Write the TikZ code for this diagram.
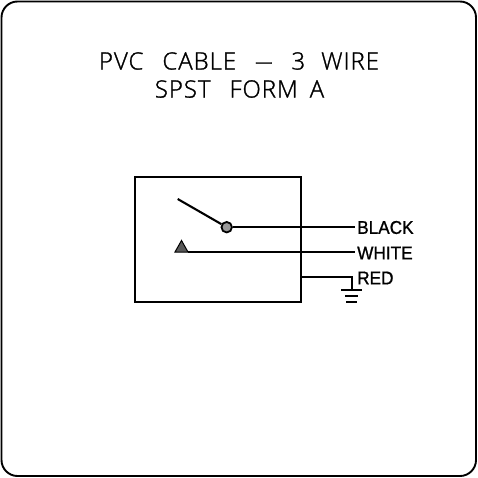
\documentclass[tikz,border=0pt]{standalone}
\usepackage{graphicx}
\usepackage{fontspec}
\setmainfont{Liberation Sans}
\newfontfamily\titlefont[LetterSpace=4,FakeBold=1.2]{Open Sans Light}
\newfontfamily\lblfont[FakeBold=1.0,FakeStretch=0.93]{Liberation Sans}
\newcommand{\wgap}[1]{\hspace*{#1pt}}
\tikzset{
  wire/.style={draw=black,line width=2.1pt},
  lbl/.style={inner sep=0pt,anchor=west,font=\lblfont\fontsize{18.5}{18.5}\selectfont},
  ttl/.style={inner sep=0pt,anchor=center,font=\titlefont\fontsize{24}{24}\selectfont},
}
\begin{document}
\begin{tikzpicture}[x=1pt,y=-1pt]
\useasboundingbox (0,0) rectangle (478,478);
\fill[white] (0,0) rectangle (478,478);
\draw[line width=1.9pt,rounded corners=16pt] (1.5,1.5) rectangle (476,476);
\node[ttl] (t1) at (239,61) {PVC\wgap{19}CABLE\wgap{19}\scalebox{0.72}[1]{—}\wgap{19}3\wgap{16}WIRE};
\node[ttl] (t2) at (239.5,89) {SPST\wgap{19}FORM\wgap{12}A};
\node[wire,rectangle,minimum width=166pt,minimum height=125pt,inner sep=0pt] (box) at (218,239.5) {};
\coordinate (arm) at (177.7,199);
\coordinate (triL) at (175,252);
\coordinate (triR) at (188,252);
\coordinate (triT) at (181.5,240.5);
\coordinate (redA) at (301,277);
\coordinate (redB) at (352,277);
\coordinate (g0) at (352,290);
\coordinate (g1a) at (341,290); \coordinate (g1b) at (362,290);
\coordinate (g2a) at (345,296); \coordinate (g2b) at (358,296);
\coordinate (g3a) at (346,302); \coordinate (g3b) at (357,302);
\node[lbl] (black) at (357,227.5) {BLACK};
\node[lbl] (white) at (357,253) {WHITE};
\node[lbl] (red) at (357,278) {RED};
\node[circle,draw=black,line width=1.8pt,fill=gray!80,minimum size=10.5pt,inner sep=0pt] (pivot) at (226.7,227.2) {};
\draw[wire] (arm) -- (pivot);
\draw[wire] (pivot) -- (355,227.2);
\draw[draw=black,line width=1pt,fill=black!65] (triL) -- (triR) -- (triT) -- cycle;
\draw[wire] (triR) -- (355,252);
\draw[wire] (redA) -- (redB) -- (g0);
\draw[wire] (g1a) -- (g1b);
\draw[wire] (g2a) -- (g2b);
\draw[wire] (g3a) -- (g3b);
\end{tikzpicture}
\end{document}
